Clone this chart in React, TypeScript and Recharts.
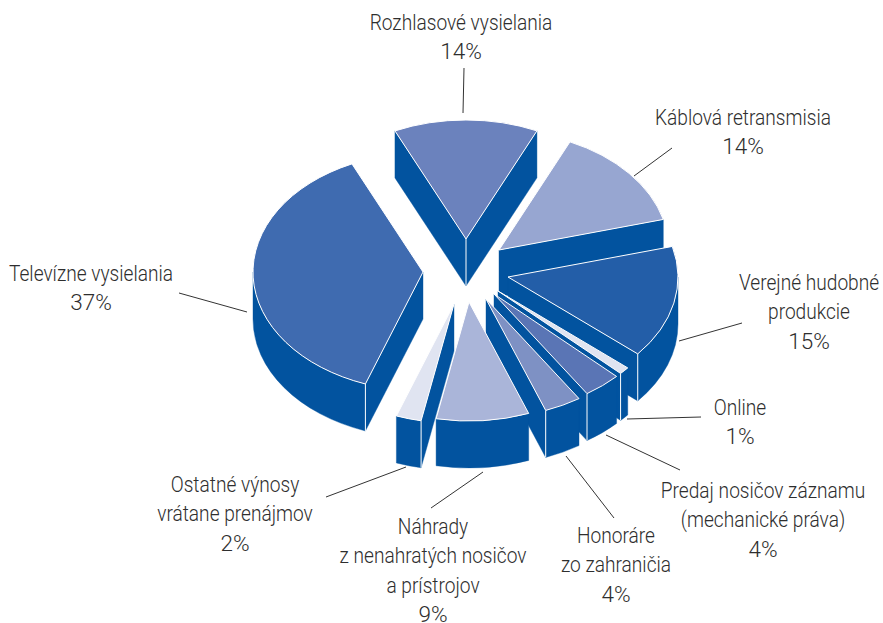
import { Pie, PieChart } from 'recharts'

const categories = [
  'Rozhlasové vysielania',
  'Káblová retransmisia',
  'Verejné hudobné produkcie',
  'Online',
  'Predaj nosičov záznamu (mechanické práva)',
  'Honoráre zo zahraničia',
  'Náhrady z nenahratých nosičov a prístrojov',
  'Ostatné výnosy vrátane prenájmov',
  'Televízne vysielania',
]
// slice sizes; printed labels are rounded
const values = [13.7, 14, 15.3, 1, 3.6, 3.5, 8.8, 2.4, 37.6]
const labelLines = [
  ['Rozhlasové vysielania', '14%'],
  ['Káblová retransmisia', '14%'],
  ['Verejné hudobné', 'produkcie', '15%'],
  ['Online', '1%'],
  ['Predaj nosičov záznamu', '(mechanické práva)', '4%'],
  ['Honoráre', 'zo zahraničia', '4%'],
  ['Náhrady', 'z nenahratých nosičov', 'a prístrojov', '9%'],
  ['Ostatné výnosy', 'vrátane prenájmov', '2%'],
  ['Televízne vysielania', '37%'],
]

const topColors = ['#6b82bd', '#97a6d1', '#235ea8', '#e0e4f1', '#5a75b5', '#7e91c4', '#aab5d9', '#e0e4f1', '#3f6bb0']
const sideColor = '#02539f'
const explodeX = [1, 34, 43, 33, 29, 21, 4, -11, -42]
const explodeY = [-46, -35, -8, 6, 9, 14, 17, 19, -13]

const labelX = [461, 743, 809, 740, 763, 616, 433, 235, 91]
const labelY = [30, 125, 290, 415, 498, 543, 534, 492, 281]
const leaders = [
  [464, 68, 463, 113],
  [672, 148, 634, 176],
  [742, 323, 679, 341],
  [701, 417, 627, 419],
  [680, 470, 606, 435],
  [614, 518, 566, 456],
  [431, 508, 483, 472],
  [326, 497, 406, 467],
  [179, 293, 247, 312],
]

const WIDTH = 883
const HEIGHT = 623
const CX = 465
const CY = 285
const RADIUS = 170
const SQUASH = 0.7
const DEPTH = 47
const TEXT_SQUEEZE = 0.85
const PERCENT_SQUEEZE = 1
const LINE_GAP = 29.3

const rad = (deg: number) => (deg * Math.PI) / 180

function Slice3D(props: any) {
  const { cx, cy, outerRadius, startAngle, endAngle, index } = props
  const i = index ?? categories.indexOf(props.name)
  const ox = cx + explodeX[i]
  const oy = cy + explodeY[i]
  const rx = outerRadius
  const ry = outerRadius * SQUASH

  // clock angles: 0 at the top, growing clockwise
  const a1 = 90 - startAngle
  const a2 = 90 - endAngle
  const pt = (a: number, dz = 0): [number, number] => [
    ox + rx * Math.sin(rad(a)),
    oy - ry * Math.cos(rad(a)) + dz,
  ]
  const arc = (from: number, to: number, dz = 0) => {
    const [x, y] = pt(to, dz)
    const sweep = to > from ? 1 : 0
    const large = Math.abs(to - from) > 180 ? 1 : 0
    return `A${rx} ${ry} 0 ${large} ${sweep} ${x} ${y}`
  }
  const move = (p: [number, number]) => `M${p[0]} ${p[1]}`
  const line = (p: [number, number]) => `L${p[0]} ${p[1]}`
  const apex: [number, number] = [ox, oy]
  const apexLow: [number, number] = [ox, oy + DEPTH]

  const startVisible = Math.sin(rad(a1)) < 0
  const endVisible = Math.sin(rad(a2)) > 0
  const wallFrom = Math.max(a1, 90)
  const wallTo = Math.min(a2, 270)

  const walls: string[] = []
  const edges: string[] = []
  if (startVisible) {
    walls.push(`${move(apex)}${line(pt(a1))}${line(pt(a1, DEPTH))}${line(apexLow)}Z`)
  }
  if (endVisible) {
    walls.push(`${move(apex)}${line(pt(a2))}${line(pt(a2, DEPTH))}${line(apexLow)}Z`)
  }
  if (wallTo > wallFrom) {
    walls.push(
      `${move(pt(wallFrom))}${arc(wallFrom, wallTo)}${line(pt(wallTo, DEPTH))}${arc(wallTo, wallFrom, DEPTH)}Z`,
    )
    if (endVisible) edges.push(`${move(pt(a2))}${line(pt(a2, DEPTH))}`)
    if (startVisible) edges.push(`${move(pt(a1))}${line(pt(a1, DEPTH))}`)
  }
  if (startVisible && endVisible) edges.push(`${move(apex)}${line(apexLow)}`)

  const top = `${move(apex)}${line(pt(a1))}${arc(a1, a2)}Z`

  return (
    <g>
      {walls.map((d, k) => (
        <path key={k} d={d} fill={sideColor} stroke={sideColor} strokeWidth={0.4} />
      ))}
      {edges.map((d, k) => (
        <path key={k} d={d} fill="none" stroke="#fff" strokeWidth={1} />
      ))}
      <path d={top} fill={topColors[i]} stroke="#fff" strokeWidth={1} strokeLinejoin="round" />
    </g>
  )
}

function SliceLabel({ index }: any) {
  const [x1, y1, x2, y2] = leaders[index]
  return (
    <g>
      <line x1={x1} y1={y1} x2={x2} y2={y2} stroke="#333" strokeWidth={1} />
      {labelLines[index].map((t, k) => (
        <text
          key={k}
          transform={`translate(${labelX[index]} ${labelY[index] + k * LINE_GAP}) scale(${t.endsWith('%') ? PERCENT_SQUEEZE : TEXT_SQUEEZE} 1)`}
          textAnchor="middle"
          fontFamily='Roboto, "Liberation Sans", sans-serif'
          fontWeight={300}
          fontSize={22.5}
          fill="#2e2e2e"
        >
          {t}
        </text>
      ))}
    </g>
  )
}

export default function App() {
  const rows = categories.map((name, i) => ({ name, value: values[i], index: i }))
  return (
    <div style={{ position: 'absolute', left: 0, top: 0, width: WIDTH, height: HEIGHT, background: '#fff' }}>
      <PieChart width={WIDTH} height={HEIGHT} margin={{ top: 0, right: 0, bottom: 0, left: 0 }}>
        <Pie
          data={rows}
          dataKey="value"
          nameKey="name"
          cx={CX}
          cy={CY}
          innerRadius={0}
          outerRadius={RADIUS}
          startAngle={114.7}
          endAngle={-245.3}
          paddingAngle={0}
          stroke="none"
          shape={Slice3D}
          label={SliceLabel}
          labelLine={false}
          isAnimationActive={false}
        />
      </PieChart>
    </div>
  )
}
